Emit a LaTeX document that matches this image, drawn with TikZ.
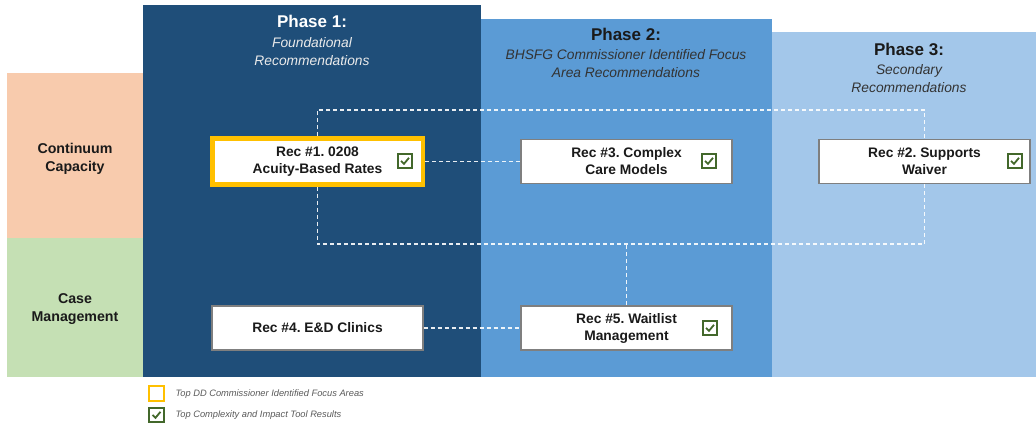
\documentclass[tikz,border=0pt]{standalone}
\usepackage{fontspec}
\setmainfont{Liberation Sans}
\usetikzlibrary{backgrounds}
\frenchspacing
\definecolor{pone}{HTML}{1F4E79}
\definecolor{ptwo}{HTML}{5B9BD5}
\definecolor{pthree}{HTML}{A3C7EA}
\definecolor{peach}{HTML}{F8CBAD}
\definecolor{sage}{HTML}{C5E0B4}
\definecolor{gold}{HTML}{FFC000}
\definecolor{chkgreen}{HTML}{43682B}
\definecolor{boxgray}{HTML}{7F7F7F}
\definecolor{txt}{HTML}{1A1A1A}
\tikzset{
  recbox/.style={draw=boxgray, line width=1.2pt, fill=white, minimum width=211pt, minimum height=44pt,
    inner sep=0pt, align=center, font=\fontsize{13.8}{17}\selectfont\bfseries, text=txt},
  chkbox/.style={draw=chkgreen, line width=2pt, fill=white, minimum size=14.5pt, inner sep=0pt},
  link/.style={draw=white, line width=1.6pt, dash pattern=on 4pt off 3pt, opacity=0.9},
  rowlab/.style={align=center, font=\fontsize{14.2}{18.5}\selectfont\bfseries, text=txt},
  phtitle/.style={font=\fontsize{17}{20}\selectfont\bfseries},
  phsub/.style={align=center, font=\fontsize{13.8}{18}\selectfont\itshape},
  legtext/.style={anchor=west, font=\fontsize{9.3}{10}\selectfont\itshape, text=black!65},
  chk/.pic={
    \node[chkbox] (-b) {};
    \draw[chkgreen, line width=1.8pt] (-4,0) -- (-1,2.8) -- (4,-3.2);
  }
}
\begin{document}
\begin{tikzpicture}[x=1pt,y=-1pt]
\useasboundingbox (0,0) rectangle (1036,425);
% nodes
\node[recbox, draw=gold, line width=4.5pt, minimum width=210.5pt, minimum height=45.5pt] (r1) at (317.5,161.5) {Rec \#1. 0208\\Acuity-Based Rates};
\node[recbox] (r3) at (626.5,161.5) {Rec \#3. Complex\\Care Models};
\node[recbox] (r2) at (924.5,161.5) {Rec \#2. Supports\\Waiver};
\node[recbox] (r4) at (317.5,328) {Rec \#4. E\&D Clinics};
\node[recbox] (r5) at (626.5,328) {Rec \#5. Waitlist\\Management};
\pic (c1) at (405,161) {chk};
\pic (c3) at (709,161) {chk};
\pic (c2) at (1015,161) {chk};
\pic (c5) at (710,328) {chk};
\coordinate (ytop) at (0,110);
\coordinate (ybot) at (0,244);
\begin{scope}[on background layer]
  \fill[pthree] (772,32) rectangle (1036,377);
  \fill[ptwo] (481,19) rectangle (772,377);
  \fill[pone] (143,5) rectangle (481,377);
  \fill[peach] (7,73) rectangle (143,238);
  \fill[sage] (7,238) rectangle (143,377);
  \draw[link] (r1.north) -- (r1.north |- ytop) -| (r2.north);
  \draw[link] (r1.south) -- (r1.south |- ybot) -| (r2.south);
  \draw[link] (r5.north) -- (r5.north |- ybot);
  \draw[link] (r1.east) -- (r3.west);
  \draw[link] (r4.east) -- (r5.west);
\end{scope}
% row labels
\node[rowlab] (cc) at (75,159) {Continuum\\Capacity};
\node[rowlab] (cm) at (75,309) {Case\\Management};
% phase headers
\node[phtitle, text=white] (p1) at (312,21.5) {Phase 1:};
\node[phsub, text=white!92!black] (p1s) at (312,52) {Foundational\\Recommendations};
\node[phtitle, text=txt] (p2) at (626,34) {Phase 2:};
\node[phsub, text=black!80] (p2s) at (626,63.5) {BHSFG Commissioner Identified Focus\\Area Recommendations};
\node[phtitle, text=txt] (p3) at (909,49) {Phase 3:};
\node[phsub, text=black!80] (p3s) at (909,78.5) {Secondary\\Recommendations};
% legend
\node[draw=gold, line width=2pt, fill=white, minimum size=15pt, inner sep=0pt] (lg1) at (156.5,393.5) {};
\pic (lg2) at (156.5,415) {chk};
\node[legtext] (lt1) at (172,394) {Top DD Commissioner Identified Focus Areas};
\node[legtext] (lt2) at (172,415.5) {Top Complexity and Impact Tool Results};
\end{tikzpicture}
\end{document}
